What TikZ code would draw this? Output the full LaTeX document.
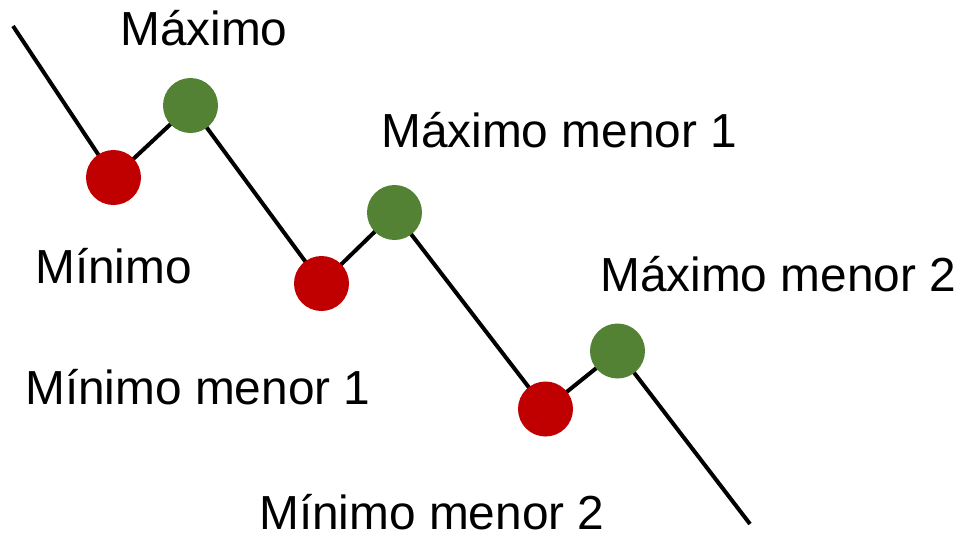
\documentclass[tikz,border=0pt]{standalone}
\usepackage{fontspec}
\setmainfont{Liberation Sans}
\usetikzlibrary{backgrounds}
\definecolor{minred}{HTML}{C00000}
\definecolor{maxgreen}{HTML}{548235}
\tikzset{
  minpt/.style={circle, fill=minred, minimum size=55pt, inner sep=0pt},
  maxpt/.style={circle, fill=maxgreen, minimum size=55pt, inner sep=0pt},
  lbl/.style={anchor=base west, inner sep=0pt, text depth=0pt, font=\fontsize{47.8}{56}\selectfont},
  curve/.style={line width=4pt, black}
}
\begin{document}
\begin{tikzpicture}[x=1pt,y=-1pt]
\useasboundingbox (0,0) rectangle (965,536);
\coordinate (s) at (13,26);
\coordinate (e) at (750,524);
\node[minpt] (r1) at (113.5,177.5) {};
\node[maxpt] (g1) at (190.5,105.5) {};
\node[minpt] (r2) at (321.5,283.5) {};
\node[maxpt] (g2) at (394.5,212.5) {};
\node[minpt] (r3) at (545.5,409) {};
\node[maxpt] (g3) at (617.5,351) {};
\begin{scope}[on background layer]
\draw[curve] (s) -- (r1.center) -- (g1.center) -- (r2.center) -- (g2.center) -- (r3.center) -- (g3.center) -- (e);
\end{scope}
\node[lbl] (tmax) at (120,45) {Máximo};
\node[lbl] (tmin) at (35,283.5) {Mínimo};
\node[lbl] (tmax1) at (381,147.5) {Máximo menor 1};
\node[lbl] (tmin1) at (25,404) {Mínimo menor 1};
\node[lbl] (tmax2) at (600,291.5) {Máximo menor 2};
\node[lbl] (tmin2) at (259,529.5) {Mínimo menor 2};
\end{tikzpicture}
\end{document}
